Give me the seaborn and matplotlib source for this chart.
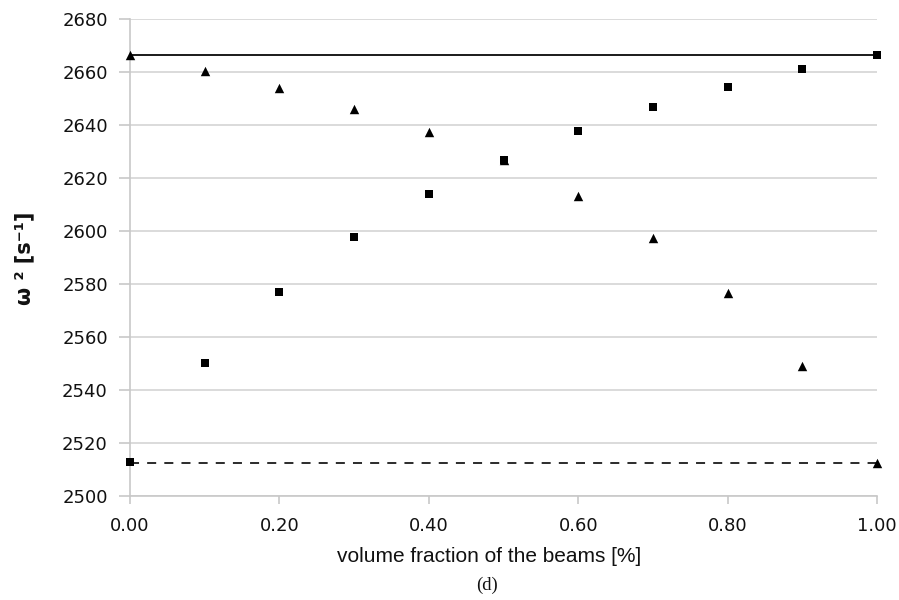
import numpy as np
import pandas as pd
import matplotlib
matplotlib.use("Agg")
import matplotlib.pyplot as plt
import seaborn as sns

# values
vol_frac = [0.0, 0.1, 0.2, 0.3, 0.4, 0.5, 0.6, 0.7, 0.8, 0.9, 1.0]
omega2_tri = [2666.5, 2660.6, 2653.9, 2646.2, 2637.3, 2626.7, 2613.3, 2597.3, 2576.4, 2549.0, 2512.3]
omega2_sq = [2512.6, 2550.0, 2577.0, 2597.8, 2614.0, 2626.7, 2637.8, 2647.0, 2654.5, 2661.1, 2666.7]
upper_bound = 2666.7
lower_bound = 2512.5
y_ticks = [2500, 2520, 2540, 2560, 2580, 2600, 2620, 2640, 2660, 2680]
x_ticks = [0.0, 0.2, 0.4, 0.6, 0.8, 1.0]

df = pd.DataFrame({"x": vol_frac, "tri": omega2_tri, "sq": omega2_sq})

sns.set_style("white")
plt.rcParams["font.family"] = ["DejaVu Sans"]

fig = plt.figure(figsize=(8.99, 6), dpi=100)
ax = fig.add_axes([130 / 899, 1 - 495.7 / 600, (877 - 130) / 899, (495.7 - 19.3) / 600])

# bounds
sns.lineplot(x=[vol_frac[0], vol_frac[-1]], y=[upper_bound] * 2, ax=ax,
             color="#1a1a1a", linewidth=1.4, zorder=2)
sns.lineplot(x=[vol_frac[0], vol_frac[-1]], y=[lower_bound] * 2, ax=ax,
             color="#1a1a1a", linewidth=1.3, zorder=2)
ax.lines[-1].set_dashes((5, 4.5))

sns.scatterplot(data=df, x="x", y="tri", marker="^", s=46, color="black",
                edgecolor="black", linewidth=0, ax=ax, clip_on=False, zorder=3)
sns.scatterplot(data=df, x="x", y="sq", marker="s", s=26, color="black",
                edgecolor="black", linewidth=0, ax=ax, clip_on=False, zorder=3)

ax.set_xlim(0, 1)
ax.set_ylim(2500, 2680)
ax.set_xticks(x_ticks)
ax.set_xticklabels([f"{v:.2f}" for v in x_ticks])
ax.set_yticks(y_ticks)
ax.grid(axis="y", color="#d4d4d4", linewidth=1.2)
ax.set_axisbelow(True)

for s in ["top", "right"]:
    ax.spines[s].set_visible(False)
for s in ["left", "bottom"]:
    ax.spines[s].set_color("#c8c8c8")
    ax.spines[s].set_linewidth(1.2)

ax.tick_params(axis="y", length=8, width=1.2, color="#c8c8c8", pad=8,
               labelsize=13, labelcolor="#111111", left=True)
ax.tick_params(axis="x", length=6, width=1.2, color="#c8c8c8", pad=9,
               labelsize=13, labelcolor="#111111", bottom=True)

ax.set_xlabel("")
ax.set_ylabel("")
fig.text(489 / 899, 1 - 557 / 600, "volume fraction of the beams [%]",
         ha="center", va="center", fontsize=15, family="Liberation Sans",
         color="#111111")
fig.text(24 / 899, 1 - 258 / 600, "ω ² [s⁻¹]",
         ha="center", va="center", rotation=90, fontsize=15, fontweight="bold",
         color="#111111")
fig.text(487 / 899, 1 - 585 / 600, "(d)", ha="center", va="center",
         fontsize=13.5, family="Liberation Serif", color="#111111")

fig.savefig("out.png", dpi=100)
